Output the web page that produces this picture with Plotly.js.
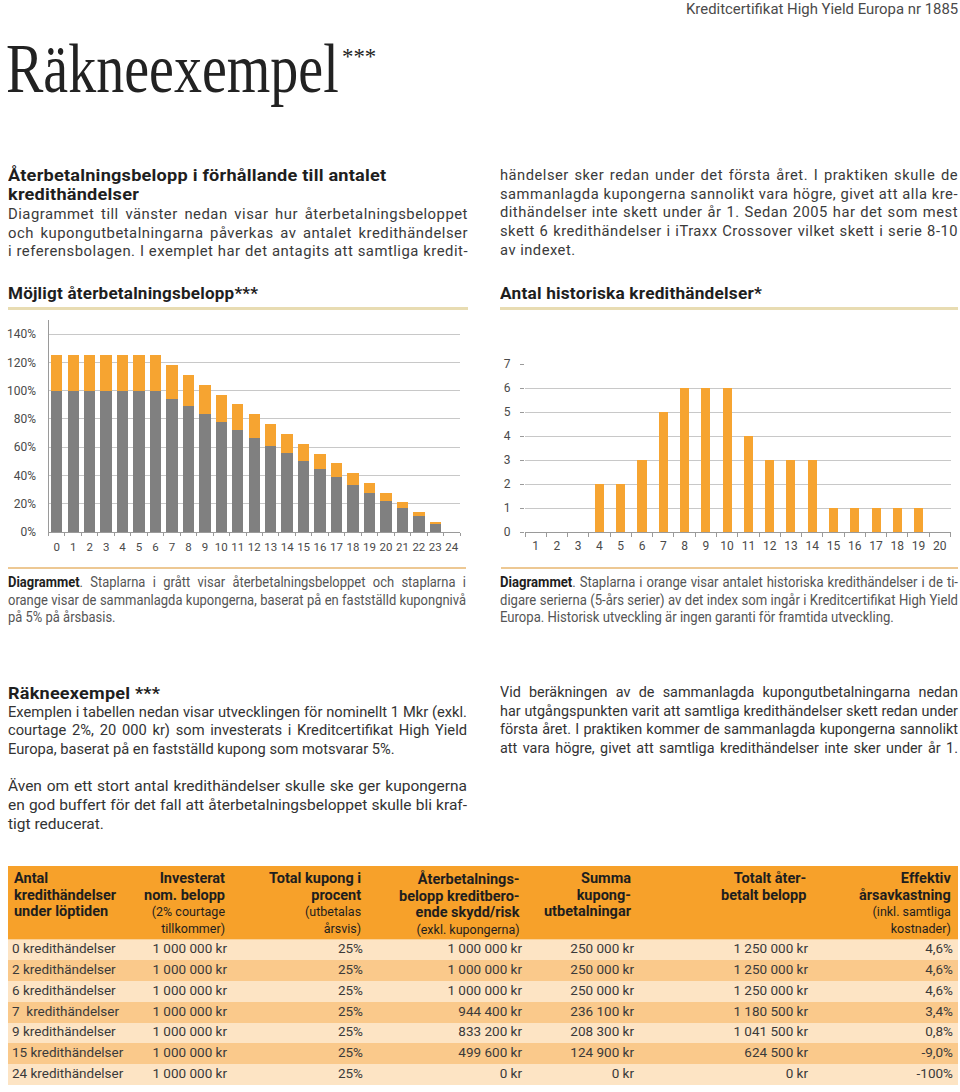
<!DOCTYPE html>
<html><head><meta charset="utf-8">
<script src="https://cdn.plot.ly/plotly-3.0.1.min.js"></script>
<style>
body{margin:0;background:#fff;}
#page{position:relative;width:960px;height:1092px;overflow:hidden;background:#fff;}
#chart{position:absolute;left:0;top:0;width:960px;height:1092px;}
.t{position:absolute;white-space:nowrap;transform-origin:0 50%;font-family:Roboto,"Open Sans",sans-serif;}
.rule{position:absolute;}
</style></head>
<body>
<div id="page"><div id="chart"></div></div>
<script>
// ---------- DATA ----------
const eventCounts = ['0','1','2','3','4','5','6','7','8','9','10','11','12','13','14','15','16','17','18','19','20','21','22','23','24'];
const repaymentPct = [100,100,100,100,100,100,100,94.4,88.9,83.3,77.8,72.2,66.7,61.1,55.6,50,44.4,38.9,33.3,27.8,22.2,16.7,11.1,5.6,0];
const couponPct = [25,25,25,25,25,25,25,23.6,22.2,20.8,19.4,18.1,16.7,15.3,13.9,12.5,11.1,9.7,8.3,6.9,5.6,4.2,2.8,1.4,0];
const leftTickVals = [0,20,40,60,80,100,120,140];
const leftTickText = ['0%','20%','40%','60%','80%','100%','120%','140%'];

const seriesLabels = ['1','2','3','4','5','6','7','8','9','10','11','12','13','14','15','16','17','18','19','20'];
const historicalEvents = [0,0,0,2,2,3,5,6,6,6,4,3,3,3,1,1,1,1,1,0];
const rightTickVals = [0,1,2,3,4,5,6,7];

const B = s => '<span style="font-size:14.5px;font-weight:bold">' + s + '</span>';
const S = s => '<span style="font-size:12.5px">' + s + '</span>';
const tableHeaders = [
  [B('Antal'), B('kredithändelser'), B('under löptiden')],
  [B('Investerat'), B('nom. belopp'), S('(2% courtage'), S('tillkommer)')],
  [B('Total kupong i'), B('procent'), S('(utbetalas'), S('årsvis)')],
  [B('Återbetalnings-'), B('belopp kreditbero-'), B('ende skydd/risk'), S('(exkl. kupongerna)')],
  [B('Summa'), B('kupong-'), B('utbetalningar')],
  [B('Totalt åter-'), B('betalt belopp')],
  [B('Effektiv'), B('årsavkastning'), S('(inkl. samtliga'), S('kostnader)')]
];
const colEvents = ['0 kredithändelser','2 kredithändelser','6 kredithändelser','7  kredithändelser','9 kredithändelser','15 kredithändelser','24 kredithändelser'];
const colInvested = ['1 000 000 kr','1 000 000 kr','1 000 000 kr','1 000 000 kr','1 000 000 kr','1 000 000 kr','1 000 000 kr'];
const colCoupon = ['25%','25%','25%','25%','25%','25%','25%'];
const colRepayment = ['1 000 000 kr','1 000 000 kr','1 000 000 kr','944 400 kr','833 200 kr','499 600 kr','0 kr'];
const colCouponSum = ['250 000 kr','250 000 kr','250 000 kr','236 100 kr','208 300 kr','124 900 kr','0 kr'];
const colTotal = ['1 250 000 kr','1 250 000 kr','1 250 000 kr','1 180 500 kr','1 041 500 kr','624 500 kr','0 kr'];
const colReturn = ['4,6%','4,6%','4,6%','3,4%','0,8%','-9,0%','-100%'];

// ---------- STYLE ----------
const FONT = 'Roboto, "Open Sans", sans-serif';
const ORANGE = '#F6A431';
const GRAY = '#808080';
const HEAD_ORANGE = '#F7A12A';
const ROW_LIGHT = '#FDE4C4';
const ROW_DARK = '#FAC98B';
const W = 960, H = 1092;
const py = v => 1 - v / H;
const px = v => v / W;

const TABLE_W = 950;
const colTextX = [4, 219, 355, 514, 626, 800, 945];
const tableCols = [colEvents, colInvested, colCoupon, colRepayment, colCouponSum, colTotal, colReturn];
const rowIdx = colEvents.map((_, i) => i);

const traces = [
  {type:'bar', x:eventCounts, y:repaymentPct, xaxis:'x', yaxis:'y', width:0.69,
   marker:{color:GRAY, line:{width:0}}, hoverinfo:'skip', name:'Återbetalningsbelopp'},
  {type:'bar', x:eventCounts, y:couponPct, xaxis:'x', yaxis:'y', width:0.69,
   marker:{color:ORANGE, line:{width:0}}, hoverinfo:'skip', name:'Kuponger'},
  {type:'bar', x:seriesLabels, y:historicalEvents, xaxis:'x2', yaxis:'y2', width:0.425,
   marker:{color:ORANGE, line:{width:0}}, hoverinfo:'skip', name:'Kredithändelser'},
  {type:'bar', orientation:'h', y:rowIdx, x:rowIdx.map(() => TABLE_W), base:0, width:1,
   xaxis:'x3', yaxis:'y3', marker:{color:rowIdx.map(i => i % 2 ? ROW_DARK : ROW_LIGHT), line:{width:0}}, hoverinfo:'skip'},
  {type:'bar', orientation:'h', y:[0], x:[TABLE_W], base:0, width:1,
   xaxis:'x3', yaxis:'y4', marker:{color:HEAD_ORANGE, line:{width:0}}, hoverinfo:'skip'}
];
tableCols.forEach((col, c) => {
  traces.push({type:'scatter', mode:'text', x:col.map(() => colTextX[c]), y:rowIdx, text:col,
    textposition: c === 0 ? 'middle right' : 'middle left',
    textfont:{family:FONT, size:13.5, color:'#3a3a3a'},
    xaxis:'x3', yaxis:'y3', hoverinfo:'skip', cliponaxis:false});
});

const annotations = tableHeaders.map((h, c) => ({
  xref:'x3', yref:'y4', x: colTextX[c], y:0.5, yanchor:'top',
  xanchor: c === 0 ? 'left' : 'right', align: c === 0 ? 'left' : 'right',
  text:h.join('<br>'), showarrow:false, yshift:-2,
  font:{family:FONT, size:12.8, color:'#1e1e1e'}
}));

const tickFont = {family:FONT, size:12, color:'#4a4a4a'};
const layout = {
  width:W, height:H, margin:{l:0,r:0,t:0,b:0},
  paper_bgcolor:'rgba(0,0,0,0)', plot_bgcolor:'rgba(0,0,0,0)',
  showlegend:false, barmode:'stack',
  xaxis:{domain:[px(48.5), px(460)], anchor:'y', type:'category', range:[-0.5,24.5],
    tickson:'boundaries', ticks:'outside', ticklen:3, tickcolor:'#9a9a9a', tickangle:0,
    showline:true, linecolor:'#9a9a9a', linewidth:1, showgrid:false, zeroline:false,
    tickfont:{family:FONT, size:11.5, color:'#4a4a4a'}, ticklabelstandoff:4, fixedrange:true},
  yaxis:{domain:[py(532), py(320)], anchor:'x', range:[0,150],
    tickvals:leftTickVals, ticktext:leftTickText, ticks:'', showline:true, linecolor:'#9a9a9a',
    showgrid:true, gridcolor:'#c8c8c8', gridwidth:1, zeroline:false,
    tickfont:tickFont, ticklabelstandoff:9, fixedrange:true},
  xaxis2:{domain:[px(525), px(950.5)], anchor:'y2', type:'category', range:[-0.5,19.5],
    tickson:'boundaries', ticks:'outside', ticklen:4, tickcolor:'#9a9a9a', tickangle:0,
    showline:true, linecolor:'#9a9a9a', linewidth:1, showgrid:false, zeroline:false,
    tickfont:tickFont, ticklabelstandoff:3, fixedrange:true},
  yaxis2:{domain:[py(532), py(364)], anchor:'x2', range:[0,7],
    tickvals:rightTickVals, ticks:'outside', ticklen:4, tickcolor:'#9a9a9a', showline:false,
    showgrid:true, gridcolor:'#c8c8c8', gridwidth:1, zeroline:false,
    tickfont:tickFont, ticklabelstandoff:7, fixedrange:true},
  xaxis3:{domain:[px(8), px(958)], anchor:'y3', range:[0,TABLE_W], visible:false, fixedrange:true},
  yaxis3:{domain:[py(1085), py(939.5)], anchor:'x3', range:[6.5,-0.5], visible:false, fixedrange:true},
  yaxis4:{domain:[py(939.5), py(866)], anchor:'x3', range:[-0.5,0.5], visible:false, fixedrange:true},
  annotations:annotations
};
Plotly.newPlot('chart', traces, layout, {staticPlot:true, displayModeBar:false});

// ---------- PAGE TEXT ----------
const page = document.getElementById('page');
function mk(html, o) {
  const d = document.createElement('div');
  d.className = 't';
  d.innerHTML = html;
  const size = o.size || 15;
  d._lh = Math.round(size * 1.3);
  d.style.fontSize = size + 'px';
  d.style.lineHeight = d._lh + 'px';
  d.style.fontWeight = o.weight || 400;
  d.style.color = o.color || '#333';
  if (o.family) d.style.fontFamily = o.family;
  if (o.ls) d.style.letterSpacing = o.ls + 'px';
  d.style.left = '0px';
  page.appendChild(d);
  d._nat = d.scrollWidth;
  return d;
}
function place(d, x, yc, s, w, justify, align) {
  if (justify) {
    d.style.whiteSpace = 'normal';
    d.style.width = (w / s) + 'px';
    d.style.textAlign = 'justify';
    d.style.textAlignLast = 'justify';
  }
  d.style.left = (align === 'right' ? x - d._nat * s : x) + 'px';
  d.style.top = (yc - d._lh / 2) + 'px';
  d.style.transform = 'scaleX(' + s + ')';
}
// single line; if o.fit given, scale so that natural width equals fit
function line(x, yc, html, o) {
  o = o || {};
  const d = mk(html, o);
  const s = o.fit ? o.fit / d._nat : (o.scale || 1);
  place(d, x, yc, s, 0, false, o.align);
  return s;
}
// paragraph: lines justified except those in o.last (indices); one common scale for all lines
function para(x, y0, pitch, w, lines, o) {
  const last = o.last || [];
  const ds = lines.map(t => mk(t, o));
  let s = o.maxScale || 1;
  ds.forEach((d, i) => { if (!last.includes(i)) s = Math.min(s, (w - 1.5) / d._nat); });
  ds.forEach((d, i) => place(d, x, y0 + i * pitch, s, w, !last.includes(i)));
}
function rule(x, y, w, h, color) {
  const d = document.createElement('div');
  d.className = 'rule';
  Object.assign(d.style, {left:x+'px', top:y+'px', width:w+'px', height:h+'px', background:color});
  page.appendChild(d);
}

const HEAD = {size:17, weight:700, color:'#1e1e1e', ls:0.2};
const DARK = '#1e1e1e';

// page header
line(958, 9, 'Kreditcertifikat High Yield Europa nr 1885', {size:14.5, color:'#4a4a4a', fit:272, align:'right'});
line(6, 68, 'Räkneexempel', {size:70, family:'"Liberation Serif", serif', color:'#222', scale:0.8});
line(342, 56, '***', {size:24, family:'"Liberation Serif", serif', color:'#222', scale:0.95});

// intro
const hs = line(8, 175, 'Återbetalningsbelopp i förhållande till antalet', Object.assign({fit:378}, HEAD));
line(8, 194, 'kredithändelser', Object.assign({scale:hs}, HEAD));
para(8, 214, 18.7, 460, [
  'Diagrammet till vänster nedan visar hur återbetalningsbeloppet',
  'och kupongutbetalningarna påverkas av antalet kredithändelser',
  'i referensbolagen. I exemplet har det antagits att samtliga kredit-'
], {size:15, color:'#3a3a3a', ls:0.5, maxScale:1});
para(500, 175, 18.7, 458, [
  'händelser sker redan under det första året. I praktiken skulle de',
  'sammanlagda kupongerna sannolikt vara högre, givet att alla kre-',
  'dithändelser inte skett under år 1. Sedan 2005 har det som mest',
  'skett 6 kredithändelser i iTraxx Crossover vilket skett i serie 8-10',
  'av indexet.'
], {size:15, color:'#3a3a3a', ls:0.5, maxScale:1, last:[4]});

// chart headings
line(8, 293, 'Möjligt återbetalningsbelopp***', Object.assign({fit:250}, HEAD));
line(500, 293, 'Antal historiska kredithändelser*', Object.assign({fit:262}, HEAD));
rule(8, 307, 460, 3, '#E8DCB2');
rule(500, 307, 458, 3, '#E8DCB2');

// captions
rule(8, 567, 458, 2, '#EDC893');
rule(501, 567, 457, 2, '#EDC893');
para(8, 582, 17.5, 458, [
  '<b style="color:' + DARK + '">Diagrammet</b>. Staplarna i grått visar återbetalningsbeloppet och staplarna i',
  'orange visar de sammanlagda kupongerna, baserat på en fastställd kupongnivå',
  'på 5% på årsbasis.'
], {size:14, color:'#555', maxScale:1, last:[2]});
para(500, 582, 17.5, 458, [
  '<b style="color:' + DARK + '">Diagrammet</b>. Staplarna i orange visar antalet historiska kredithändelser i de ti-',
  'digare serierna (5-års serier) av det index som ingår i Kreditcertifikat High Yield',
  'Europa. Historisk utveckling är ingen garanti för framtida utveckling.'
], {size:14, color:'#555', maxScale:1, last:[2]});

// example text
line(8, 693, 'Räkneexempel ***', Object.assign({fit:152}, HEAD));
para(8, 712, 18.3, 459, [
  'Exemplen i tabellen nedan visar utvecklingen för nominellt 1 Mkr (exkl.',
  'courtage 2%, 20 000 kr) som investerats i Kreditcertifikat High Yield',
  'Europa, baserat på en fastställd kupong som motsvarar 5%.'
], {size:15.5, color:'#333', maxScale:1, last:[2]});
para(8, 786, 18.9, 459, [
  'Även om ett stort antal kredithändelser skulle ske ger kupongerna',
  'en god buffert för det fall att återbetalningsbeloppet skulle bli kraf-',
  'tigt reducerat.'
], {size:15.5, color:'#333', maxScale:1, last:[2]});
para(500, 692, 18.6, 458, [
  'Vid beräkningen av de sammanlagda kupongutbetalningarna nedan',
  'har utgångspunkten varit att samtliga kredithändelser skett redan under',
  'första året. I praktiken kommer de sammanlagda kupongerna sannolikt',
  'att vara högre, givet att samtliga kredithändelser inte sker under år 1.'
], {size:15.5, color:'#333', maxScale:1});
</script>
</body></html>
